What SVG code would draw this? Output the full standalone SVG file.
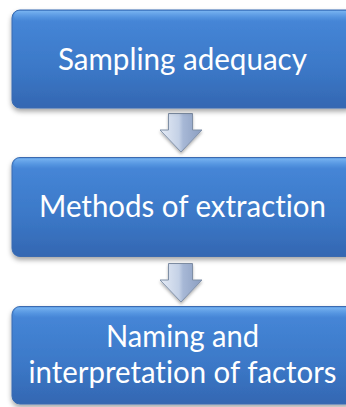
<svg xmlns="http://www.w3.org/2000/svg" width="346" height="407" viewBox="0 0 346 407">
<style>
.box{fill:url(#boxg);stroke:#3a6bb0;stroke-width:1;filter:url(#sh)}
.hl{fill:url(#hlg)}
.lbl{font-family:Lato,"Open Sans",sans-serif;font-size:30px;fill:#ffffff;text-anchor:middle;font-variant-ligatures:none;font-feature-settings:"liga" 0,"clig" 0,"dlig" 0}
.arr{fill:url(#arrg);stroke:#7f8fa6;stroke-width:1}
</style>
<defs>
<linearGradient id="boxg" x1="0" y1="0" x2="0" y2="1">
<stop offset="0" stop-color="#5295e0"/>
<stop offset="0.12" stop-color="#4585d6"/>
<stop offset="0.6" stop-color="#3b78c7"/>
<stop offset="1" stop-color="#3467b2"/>
</linearGradient>
<linearGradient id="hlg" x1="0" y1="0" x2="0" y2="1">
<stop offset="0" stop-color="#7cb6f2" stop-opacity="0.9"/>
<stop offset="1" stop-color="#5a9ae6" stop-opacity="0"/>
</linearGradient>
<linearGradient id="arrg" x1="0" y1="0" x2="1" y2="0">
<stop offset="0" stop-color="#e6ecf6"/>
<stop offset="0.45" stop-color="#c4d1e6"/>
<stop offset="0.55" stop-color="#a7b8d6"/>
<stop offset="1" stop-color="#8a9dc0"/>
</linearGradient>
<filter id="sh" x="-10%" y="-10%" width="120%" height="130%">
<feDropShadow dx="0" dy="3" stdDeviation="2.5" flood-color="#000000" flood-opacity="0.35"/>
</filter>
<filter id="ash" x="-20%" y="-20%" width="140%" height="140%">
<feDropShadow dx="0" dy="2" stdDeviation="1.5" flood-color="#000000" flood-opacity="0.3"/>
</filter>
</defs>
<g id="connectors">
<path class="arr" filter="url(#ash)" d="M168.5,113.5 H192.5 V130 H202 L181,152 L160,130 H168.5 Z"/>
<path class="arr" filter="url(#ash)" d="M168.5,263.5 H192.5 V280 H202 L181,302 L160,280 H168.5 Z"/>
</g>
<g id="node1">
<rect class="box" x="12" y="10" width="342" height="98" rx="8"/>
<rect class="hl" x="14" y="11" width="338" height="10" rx="5"/>
<text class="lbl" x="182.5" y="70" textLength="249" lengthAdjust="spacingAndGlyphs">Sampling adequacy</text>
</g>
<g id="node2">
<rect class="box" x="12" y="157.5" width="342" height="99" rx="8"/>
<rect class="hl" x="14" y="158.5" width="338" height="10" rx="5"/>
<text class="lbl" x="182.5" y="217" textLength="287" lengthAdjust="spacingAndGlyphs">Methods of extraction</text>
</g>
<g id="node3">
<rect class="box" x="12" y="306.5" width="342" height="97.5" rx="8"/>
<rect class="hl" x="14" y="307.5" width="338" height="10" rx="5"/>
<text class="lbl" x="182.5" y="347" textLength="153" lengthAdjust="spacingAndGlyphs">Naming and</text>
<text class="lbl" x="182.5" y="383" textLength="308" lengthAdjust="spacingAndGlyphs">interpretation of factors</text>
</g>
</svg>
